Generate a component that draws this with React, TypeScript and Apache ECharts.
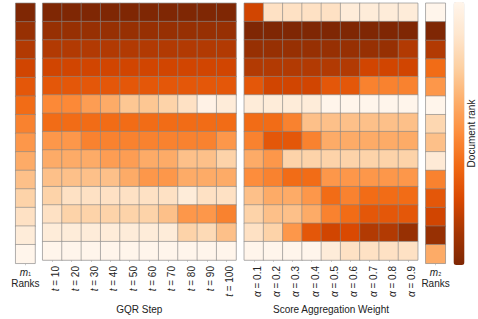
import React, { useEffect, useRef } from 'react';
import * as echarts from 'echarts';

const rowIds = ['1', '2', '3', '4', '5', '6', '7', '8', '9', '10', '11', '12', '13', '14'];

const m1Ranks = [1, 2, 3, 4, 5, 6, 7, 8, 9, 10, 11, 12, 13, 14];

const gqrSteps = ['10', '20', '30', '40', '50', '60', '70', '80', '90', '100'];
const gqrRanks = [
  [1, 1, 1, 1, 1, 1, 1, 1, 1, 1],
  [2, 2, 2, 2, 2, 2, 2, 2, 2, 2],
  [3, 3, 3, 3, 3, 3, 3, 3, 3, 3],
  [4, 4, 4, 4, 4, 4, 4, 4, 4, 4],
  [5, 5, 5, 5, 5, 5, 5, 5, 5, 5],
  [7.3, 7.3, 8.3, 9, 10.3, 10.3, 11, 12, 13.7, 13],
  [6, 6, 6, 6, 6, 6, 6, 6, 6, 6],
  [8, 8, 7, 7, 7, 7, 7, 7, 7, 8],
  [9, 9, 9, 8.3, 8.3, 9, 9, 10, 10, 11],
  [10, 10, 10, 10, 9, 8, 8, 9, 9, 9],
  [11, 12, 12, 12, 12, 12, 12, 13, 12, 12],
  [12, 11, 11, 11, 11, 11, 10, 8, 8, 7],
  [13, 13, 13, 13, 13, 13, 13, 11, 11.5, 10],
  [14, 14, 14, 14, 14, 14, 14, 14, 14, 14],
];

const alphaWeights = ['0.1', '0.2', '0.3', '0.4', '0.5', '0.6', '0.7', '0.8', '0.9'];
const scoreRanks = [
  [4, 12, 12, 12, 12, 13, 13, 13, 13],
  [1, 1, 1, 1, 1, 1, 1, 1, 1],
  [2, 2, 2, 2, 2, 2, 2, 2, 3],
  [3, 3, 3, 3, 3, 3, 4, 4, 4],
  [5, 4, 4, 4, 5, 5, 7, 7, 7],
  [13, 13, 13, 13, 14, 14, 14, 14, 14],
  [6, 6, 7, 10, 10, 10, 10, 10, 10],
  [7, 5, 5, 7, 9, 9, 9, 9, 9],
  [9, 8, 11, 11, 11, 11, 11, 11, 11],
  [7.5, 7, 6, 6, 8, 8, 8, 8, 8],
  [10, 9, 9, 8, 6, 7, 6, 6, 6],
  [11, 10, 10, 9, 7, 6, 5, 5, 5],
  [12, 11, 8, 5, 4, 4.3, 3, 3, 2],
  [14, 14, 14, 14, 13, 12, 12, 12, 12],
];

const m2Ranks = [14, 1, 3, 6, 8, 14, 11.3, 10, 12.8, 7, 5, 4, 2, 9];

const orangesRev = ['#7f2704', '#a63603', '#d94801', '#f16913', '#fd8d3c', '#fdae6b', '#fdd0a2', '#fee6ce', '#fff5eb'];

const FONT = '"Liberation Sans", Arial, sans-serif';
const TXT = '#222';

function matrixCells(m: number[][]) {
  const out: number[][] = [];
  m.forEach((row, r) => row.forEach((v, c) => out.push([c, r, v])));
  return out;
}
function columnCells(col: number[]) {
  return col.map((v, r) => [0, r, v]);
}

export default function App() {
  const ref = useRef<HTMLDivElement>(null);
  useEffect(() => {
    if (!ref.current) return;
    const chart = echarts.init(ref.current, null, { renderer: 'svg' });
    const top = 3.3;
    const height = 260;
    const grids = [
      { left: 15.7, width: 19.3 },
      { left: 42.7, width: 193.3 },
      { left: 244.3, width: 173.4 },
      { left: 425.8, width: 19.5 },
    ].map((g) => ({ ...g, top, height, show: true, borderColor: '#d4d4d4', borderWidth: 1, containLabel: false }));

    const rankRich = {
      i: { fontStyle: 'italic', fontSize: 10, fontFamily: FONT, color: TXT, lineHeight: 11 },
      s: { fontSize: 8, fontFamily: FONT, color: TXT, lineHeight: 11 },
      r: { fontSize: 10, fontFamily: FONT, color: TXT, lineHeight: 11 },
    };
    const tickStyle = { show: true, alignWithLabel: true, length: 2, lineStyle: { color: '#cccccc' } };
    const axisLine = { show: false };

    const xAxes = [
      {
        gridIndex: 0, type: 'category', data: ['m1'], axisLine, axisTick: tickStyle,
        axisLabel: { margin: 4, formatter: () => '{i|m}{s|₁}\n{r|Ranks}', rich: rankRich },
      },
      {
        gridIndex: 1, type: 'category', data: gqrSteps, axisLine, axisTick: tickStyle,
        axisLabel: {
          interval: 0, rotate: 90, margin: 6, padding: [7, 0, 0, 0],
          formatter: (v: string) => `{i|t} = ${v}`,
          fontSize: 10, fontFamily: FONT, color: TXT,
          rich: { i: { fontStyle: 'italic', fontSize: 10, fontFamily: FONT, color: TXT } },
        },
        name: 'GQR Step', nameLocation: 'middle', nameGap: 44, nameMoveOverlap: false,
        nameTextStyle: { fontSize: 10, fontFamily: FONT, color: TXT },
      },
      {
        gridIndex: 2, type: 'category', data: alphaWeights, axisLine, axisTick: tickStyle,
        axisLabel: {
          interval: 0, rotate: 90, margin: 6, padding: [7, 0, 0, 0],
          formatter: (v: string) => `{i|α} = ${v}`,
          fontSize: 10, fontFamily: FONT, color: TXT,
          rich: { i: { fontStyle: 'italic', fontSize: 10, fontFamily: FONT, color: TXT } },
        },
        name: 'Score Aggregation Weight', nameLocation: 'middle', nameGap: 44, nameMoveOverlap: false,
        nameTextStyle: { fontSize: 10, fontFamily: FONT, color: TXT },
      },
      {
        gridIndex: 3, type: 'category', data: ['m2'], axisLine, axisTick: tickStyle,
        axisLabel: { margin: 4, formatter: () => '{i|m}{s|₂}\n{r|Ranks}', rich: rankRich },
      },
    ];
    const yAxes = [0, 1, 2, 3].map((i) => ({
      gridIndex: i, type: 'category', data: rowIds, inverse: true, show: false,
    }));
    const cellStyle = { borderColor: 'rgba(135,135,135,0.75)', borderWidth: 0.8 };
    const datasets = [columnCells(m1Ranks), matrixCells(gqrRanks), matrixCells(scoreRanks), columnCells(m2Ranks)];
    const series = datasets.map((d, i) => ({
      type: 'heatmap', xAxisIndex: i, yAxisIndex: i, data: d,
      itemStyle: cellStyle, emphasis: { disabled: true }, label: { show: false },
    }));

    chart.setOption({
      animation: false,
      backgroundColor: '#ffffff',
      grid: grids,
      xAxis: xAxes,
      yAxis: yAxes,
      visualMap: {
        type: 'continuous', min: 1, max: 14, calculable: false, hoverLink: false,
        seriesIndex: [0, 1, 2, 3], dimension: 2,
        inRange: { color: orangesRev },
        orient: 'vertical', left: 453.5, top: 2, itemWidth: 11, itemHeight: 263, padding: 0,
      },
      graphic: [
        {
          type: 'text', x: 471.5, y: 133.5, rotation: Math.PI / 2,
          style: { text: 'Document rank', fontSize: 10, fontFamily: FONT, fill: TXT, align: 'center', verticalAlign: 'middle' },
        },
      ],
      series,
    });
    return () => chart.dispose();
  }, []);
  return (
    <div
      ref={ref}
      style={{ position: 'fixed', left: 0, top: 0, width: 478, height: 319, background: '#fff' }}
    />
  );
}
